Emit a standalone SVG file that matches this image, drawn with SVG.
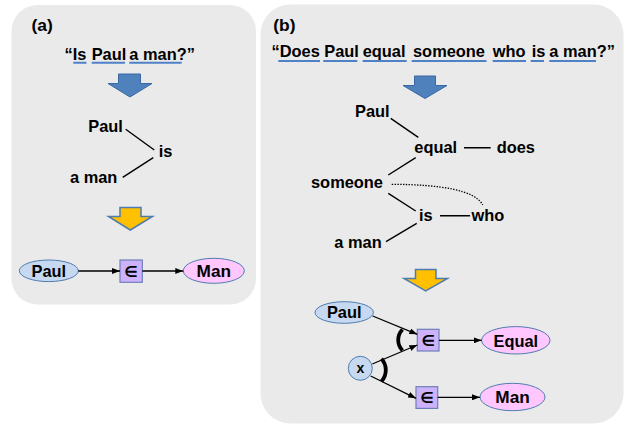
<svg xmlns="http://www.w3.org/2000/svg" width="627" height="424" viewBox="0 0 627 424">
<defs>
<style>
text{font-family:"Liberation Sans",Arial,sans-serif;font-weight:bold;fill:#000}
.t{font-size:16.4px}
.hd{font-size:17.4px}
.lbl{font-size:16.4px;text-anchor:middle}
.big{font-size:17.2px;text-anchor:middle}
.panel{fill:#EAEAEA;stroke:none}
.ul{stroke:#4F81C7;stroke-width:2;fill:none}
.tree{stroke:#000;stroke-width:1.4;fill:none}
.dot{stroke:#000;stroke-width:1.3;fill:none;stroke-dasharray:1.4 1.4}
.conn{stroke:#000;stroke-width:1.3;fill:none;marker-end:url(#ah)}
.blue{fill:#4F81BD;stroke:#3A67A2;stroke-width:1}
.yel{fill:#FFC000;stroke:#4F7CB0;stroke-width:1.5}
.ent{fill:#C6D9F1;stroke:#4F7CB0;stroke-width:1}
.cls{fill:#FFC6FF;stroke:#4F7CB0;stroke-width:1}
.box{fill:#CCB2FA;stroke:#6E7FB8;stroke-width:1.2}
.in{font-family:"DejaVu Sans",sans-serif;font-size:15px;text-anchor:middle}
.arc{stroke:#000;stroke-width:3.8;fill:none}
</style>
<marker id="ah" markerUnits="userSpaceOnUse" markerWidth="8" markerHeight="6" refX="8" refY="3" orient="auto">
<path d="M0,0 L8,3 L0,6 z" fill="#000"/>
</marker>
</defs>

<rect class="panel" x="11.5" y="5" width="244.5" height="299.5" rx="26"/>
<rect class="panel" x="260.5" y="4.5" width="363" height="419" rx="30"/>

<g id="panel-a">
<text class="hd" x="31.5" y="30.7">(a)</text>
<g id="sentence-a">
<text class="t" y="59.5"><tspan x="64.5">“Is</tspan><tspan x="91.7">Paul</tspan><tspan x="129.3">a man?”</tspan></text>
<path class="ul" d="M73.3,62.8H86.5M91.7,62.8H125M129.3,62.8H181.7"/>
</g>
<polygon id="arrow-a1" class="blue" points="118.5,74 140.5,74 140.5,83.5 152,83.5 130,97 108,83.5 118.5,83.5"/>
<g id="tree-a">
<text class="t" x="88.3" y="132.3">Paul</text>
<text class="t" x="158.7" y="157.3">is</text>
<text class="t" x="70" y="183.3">a man</text>
<path class="tree" d="M125.7,129.3L154.3,150M122.7,177.3L153.3,157.7"/>
</g>
<polygon id="arrow-a2" class="yel" points="120,207.5 141,207.5 141,216.5 152.5,216.5 130.3,230 108.5,216.5 120,216.5"/>
<g id="a-paul"><ellipse class="ent" cx="48.8" cy="270.8" rx="29.5" ry="10.8"/><text class="lbl" x="48.8" y="276.6">Paul</text></g>
<g id="a-in"><rect class="box" x="120" y="260" width="22.3" height="22.3"/><text class="in" x="131.1" y="276.5">∈</text></g>
<g id="a-man"><ellipse class="cls" cx="213.8" cy="270.8" rx="30.5" ry="12.5"/><text class="big" x="213.8" y="277.2">Man</text></g>
<g id="a-connectors">
<path class="conn" d="M78.3,271H120"/>
<path class="conn" d="M142.3,271H183.3"/>
</g>
</g>

<g id="panel-b">
<text class="hd" x="273.3" y="30.7">(b)</text>
<g id="sentence-b">
<text class="t" y="57.3"><tspan x="271.5">“Does</tspan><tspan x="324.3">Paul</tspan><tspan x="362.7">equal</tspan><tspan x="413">someone</tspan><tspan x="492.7">who</tspan><tspan x="531.7">is</tspan><tspan x="549.3">a man?”</tspan></text>
<path class="ul" d="M278.3,61H320M323.3,61H357.3M362.7,61H406.7M411.7,61H486.5M492.7,61H526M530.7,61H544M549.3,61H596"/>
</g>
<polygon id="arrow-b1" class="blue" points="414.5,76 435.5,76 435.5,85.5 447,85.5 425,98.5 403,85.5 414.5,85.5"/>
<g id="tree-b">
<text class="t" x="355" y="116.7">Paul</text>
<text class="t" x="414.3" y="152.5">equal</text>
<text class="t" x="496.7" y="152.5">does</text>
<text class="t" x="311" y="188.3">someone</text>
<text class="t" x="419" y="221">is</text>
<text class="t" x="471.5" y="221">who</text>
<text class="t" x="334.3" y="247.7">a man</text>
<path class="tree" d="M390.7,118.3L418.3,137.3M464,147.7H490.7M415.7,157.7L388.3,175M388.3,193.3L415.7,211M440,215.7H470M386,241.7L416.7,223.3"/>
<path class="dot" d="M391.7,184.3C440,184.5 475,190 482.7,205"/>
</g>
<polygon id="arrow-b2" class="yel" points="415.5,269.5 436,269.5 436,278.5 447.5,278.5 425.7,291 404,278.5 415.5,278.5"/>
<g id="b-paul"><ellipse class="ent" cx="344.2" cy="312.5" rx="29.2" ry="10.8"/><text class="lbl" x="344.2" y="318.3">Paul</text></g>
<g id="b-x"><circle class="ent" cx="360.3" cy="368.3" r="12"/><text class="lbl" x="360.3" y="373.3" style="font-size:14px">x</text></g>
<g id="b-in1"><rect class="box" x="417.3" y="329.3" width="21.7" height="21.7"/><text class="in" x="428.2" y="345.6">∈</text></g>
<g id="b-in2"><rect class="box" x="416" y="386.7" width="21.7" height="21.7"/><text class="in" x="426.9" y="403">∈</text></g>
<g id="b-equal"><ellipse class="cls" cx="515.8" cy="340.3" rx="34.2" ry="13.7"/><text class="lbl" x="515.8" y="346.5">Equal</text></g>
<g id="b-man"><ellipse class="cls" cx="512.5" cy="397" rx="32.5" ry="13.7"/><text class="big" x="512.5" y="403.3">Man</text></g>
<g id="b-connectors">
<path class="conn" d="M372.7,316L417.3,334.3"/>
<path class="conn" d="M372.3,364L417.3,345"/>
<path class="conn" d="M370.7,376L416,398.3"/>
<path class="conn" d="M439,340.3H481.7"/>
<path class="conn" d="M437.7,397.3H480"/>
<path class="arc" d="M402.5,329.5A15,15 0 0 0 402.5,350.5"/>
<path class="arc" d="M381.5,358.7A17,17 0 0 1 381.5,381.3"/>
</g>
</g>
</svg>
